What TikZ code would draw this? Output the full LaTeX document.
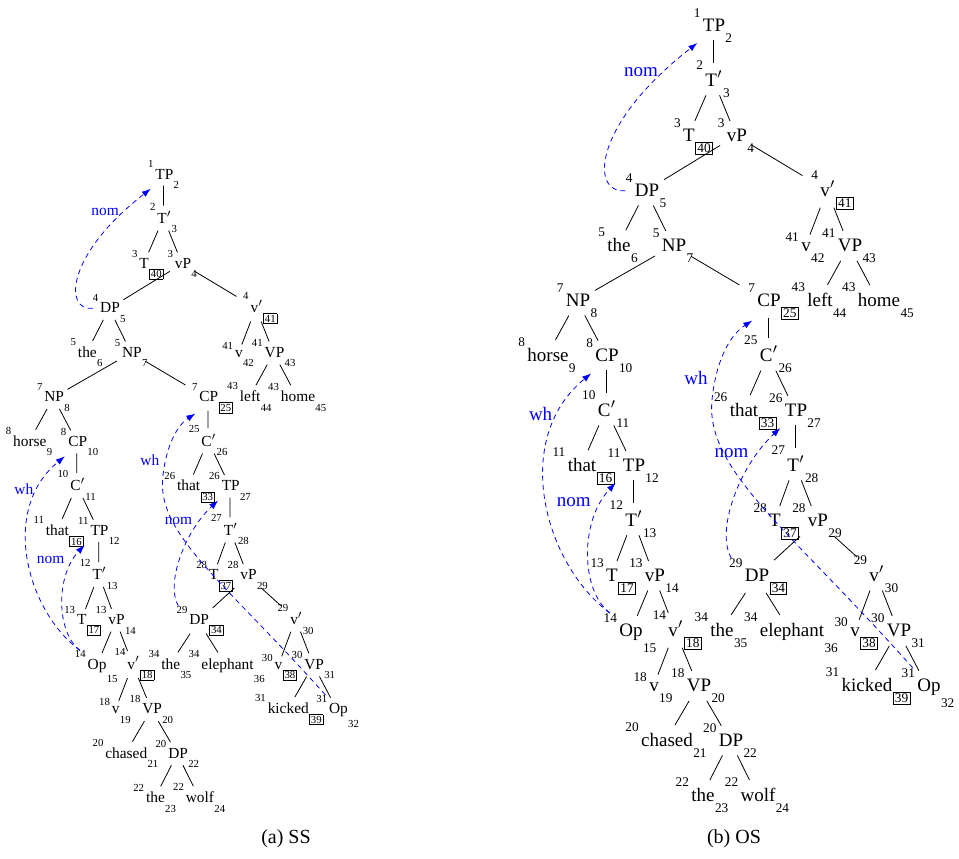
\documentclass[tikz,border=0pt]{standalone}
\usepackage{fontspec}
\setmainfont{Liberation Serif}
\usetikzlibrary{arrows.meta}

\newsavebox\lblbox
\newsavebox\supbox
\newsavebox\subbox
\newlength\idxw
\newcommand{\idxfont}{\fontsize{6.65pt}{7pt}\selectfont}
\newcommand{\bx}[1]{{\fboxsep=0.7pt\fboxrule=0.4pt\fbox{#1}}}
\newcommand{\tn}[3]{%
	\sbox\lblbox{#2}%
	\sbox\supbox{\idxfont #1}%
	\sbox\subbox{\idxfont #3}%
	\setlength\idxw{\wd\supbox}%
	\ifdim\wd\subbox>\idxw \setlength\idxw{\wd\subbox}\fi
	\makebox[\idxw][r]{\raisebox{\dimexpr\ht\lblbox+0.6pt\relax}{\usebox\supbox}}\kern1.2pt
	\usebox\lblbox
	\kern0.2pt\makebox[\idxw][l]{\raisebox{\dimexpr-5.8pt-1.25\dp\lblbox\relax}{\usebox\subbox}}}

\tikzset{
	tn/.style={anchor=base, inner sep=0pt, font=\fontsize{9.5pt}{11pt}\selectfont},
	branch/.style={shorten <=-1.5pt, shorten >=-1.5pt},
	mv/.style={blue, dash pattern=on 2.5pt off 2pt, -{Latex[length=4.5pt,width=3.2pt]}},
	mvlabel/.style={blue, inner sep=1pt, font=\fontsize{9.5pt}{11pt}\selectfont},
}

\newcommand{\sstree}[1]{%
			\node (#1-1) [tn] at (713,31) {\tn{1}{TP}{2}};
			\node (#1-2) [tn] at (713,86) {\tn{2}{T$'$}{3}};
			\node (#1-3) [tn] at (688,141) {\tn{3}{T}{\bx{40}}};
			\node (#1-4) [tn] at (736,141) {\tn{3}{vP}{4}};
			\node (#1-5) [tn] at (646,196) {\tn{4}{DP}{5}};
			\node (#1-6) [tn] at (827,196) {\tn{4}{v$'$}{\bx{41}}};
			\node (#1-7) [tn] at (618,251) {\tn{5}{the}{6}};
			\node (#1-8) [tn] at (673,251) {\tn{5}{NP}{7}};
			\node (#1-9) [tn] at (805,251) {\tn{41}{v}{42}};
			\node (#1-10) [tn] at (849,251) {\tn{41}{VP}{43}};
			\node (#1-11) [tn] at (577,306) {\tn{7}{NP}{8}};
			\node (#1-12) [tn] at (768,306) {\tn{7}{CP}{\bx{25}}};
			\node (#1-13) [tn] at (819,306) {\tn{43}{left}{44}};
			\node (#1-14) [tn] at (878,306) {\tn{43}{home}{45}};
			\node (#1-15) [tn] at (547,361) {\tn{8}{horse}{9}};
			\node (#1-16) [tn] at (606,361) {\tn{8}{CP}{10}};
			\node (#1-17) [tn] at (768,361) {\tn{25}{C$'$}{26}};
			\node (#1-18) [tn] at (606,416) {\tn{10}{C$'$}{11}};
			\node (#1-19) [tn] at (743,416) {\tn{26}{that}{\bx{33}}};
			\node (#1-20) [tn] at (795,416) {\tn{26}{TP}{27}};
			\node (#1-21) [tn] at (581,471) {\tn{11}{that}{\bx{16}}};
			\node (#1-22) [tn] at (633,471) {\tn{11}{TP}{12}};
			\node (#1-23) [tn] at (795,471) {\tn{27}{T$'$}{28}};
			\node (#1-24) [tn] at (633,526) {\tn{12}{T$'$}{13}};
			\node (#1-25) [tn] at (774,526) {\tn{28}{T}{\bx{37}}};
			\node (#1-26) [tn] at (817,526) {\tn{28}{vP}{29}};
			\node (#1-27) [tn] at (611,581) {\tn{13}{T}{\bx{17}}};
			\node (#1-28) [tn] at (654,581) {\tn{13}{vP}{14}};
			\node (#1-29) [tn] at (756,581) {\tn{29}{DP}{\bx{34}}};
			\node (#1-30) [tn] at (876,581) {\tn{29}{v$'$}{30}};
			\node (#1-31) [tn] at (630,636) {\tn{14}{Op}{15}};
			\node (#1-32) [tn] at (675,636) {\tn{14}{v$'$}{\bx{18}}};
			\node (#1-33) [tn] at (721,636) {\tn{34}{the}{35}};
			\node (#1-34) [tn] at (791,636) {\tn{34}{elephant}{36}};
			\node (#1-35) [tn] at (854,636) {\tn{30}{v}{\bx{38}}};
			\node (#1-36) [tn] at (898,636) {\tn{30}{VP}{31}};
			\node (#1-37) [tn] at (653,691) {\tn{18}{v}{19}};
			\node (#1-38) [tn] at (698,691) {\tn{18}{VP}{20}};
			\node (#1-39) [tn] at (866,691) {\tn{31}{kicked}{\bx{39}}};
			\node (#1-40) [tn] at (928,691) {\tn{31}{Op}{32}};
			\node (#1-41) [tn] at (666,746) {\tn{20}{chased}{21}};
			\node (#1-42) [tn] at (730,746) {\tn{20}{DP}{22}};
			\node (#1-43) [tn] at (702,801) {\tn{22}{the}{23}};
			\node (#1-44) [tn] at (757,801) {\tn{22}{wolf}{24}};

			\path[branch]
			  (#1-1) edge (#1-2)
			  (#1-2) edge (#1-3)
			  (#1-2) edge (#1-4)
			  (#1-4) edge (#1-5)
			  (#1-4) edge (#1-6)
			  (#1-5) edge (#1-7)
			  (#1-5) edge (#1-8)
			  (#1-6) edge (#1-9)
			  (#1-6) edge (#1-10)
			  (#1-10) edge (#1-13)
			  (#1-10) edge (#1-14)
			  (#1-8) edge (#1-11)
			  (#1-8) edge (#1-12)
			  (#1-11) edge (#1-15)
			  (#1-11) edge (#1-16)
			  (#1-16) edge (#1-18)
			  (#1-18) edge (#1-21)
			  (#1-18) edge (#1-22)
			  (#1-22) edge (#1-24)
			  (#1-24) edge (#1-27)
			  (#1-24) edge (#1-28)
			  (#1-28) edge (#1-31)
			  (#1-28) edge (#1-32)
			  (#1-32) edge (#1-37)
			  (#1-32) edge (#1-38)
			  (#1-38) edge (#1-41)
			  (#1-38) edge (#1-42)
			  (#1-42) edge (#1-43)
			  (#1-42) edge (#1-44)
			  (#1-12) edge (#1-17)
			  (#1-17) edge (#1-19)
			  (#1-17) edge (#1-20)
			  (#1-20) edge (#1-23)
			  (#1-23) edge (#1-25)
			  (#1-23) edge (#1-26)
			  (#1-26) edge (#1-29)
			  (#1-26) edge (#1-30)
			  (#1-29) edge (#1-33)
			  (#1-29) edge (#1-34)
			  (#1-30) edge (#1-35)
			  (#1-30) edge (#1-36)
			  (#1-36) edge (#1-39)
			  (#1-36) edge (#1-40);

			\draw[mv] (#1-5.west) .. controls (590,194) and (592,125) .. (#1-1.-132)
			  node[mvlabel, pos=.88, left=1.75pt] {nom};
			\draw[mv] (#1-31.135) .. controls (545,565) and (510,440) .. (#1-16.-130)
			  node[mvlabel, pos=.82, left=1.75pt] {wh};
			\draw[mv] (#1-31.135) .. controls (580,590) and (580,520) .. (#1-22.-135)
			  node[mvlabel, pos=.85, left=4.5pt] {nom};
			\draw[mv] (#1-40.127) .. controls (790,530) and (705,470) .. (712,400)
			  .. controls (716,360) and (730,335) .. (#1-12.-130)
			  node[mvlabel, pos=.2, left=2.75pt] {wh};
			\draw[mv] (#1-29.143) .. controls (715,530) and (740,465) .. (#1-20.-130)
			  node[mvlabel, pos=.8, left=3.75pt] {nom};
}

\begin{document}
\begin{tikzpicture}[x=0.5pt, y=-0.5pt]
		\path[use as bounding box] (0,0) rectangle (959,858);
		\begin{scope}[shift={(-414,153.9)}, scale=0.81, transform shape]
			\sstree{a}
		\end{scope}
		\sstree{b}
		\node (capa) at (286,839) {(a) SS};
		\node (capb) at (734,839) {(b) OS};
\end{tikzpicture}
\end{document}
